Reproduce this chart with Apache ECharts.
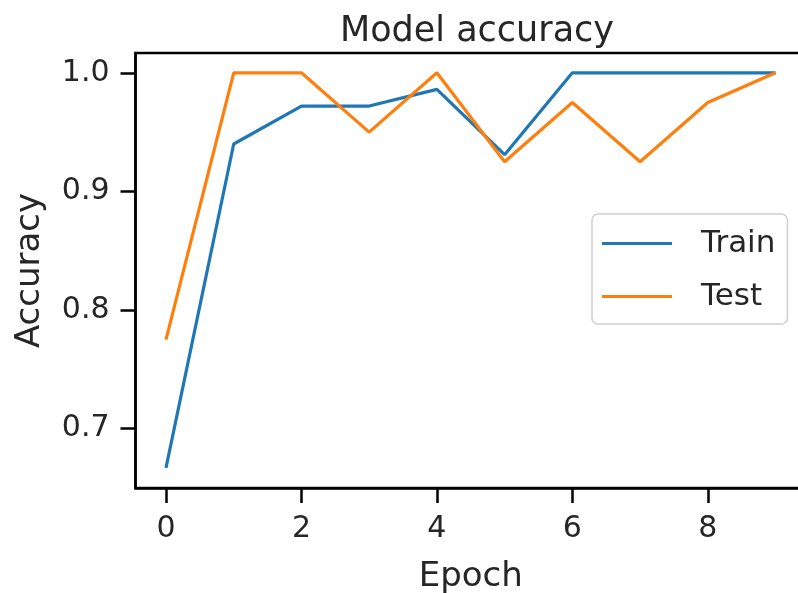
<!DOCTYPE html>
<html>
<head>
<meta charset="utf-8">
<script src="https://cdn.jsdelivr.net/npm/echarts@6/dist/echarts.min.js"></script>
<style>html,body{margin:0;padding:0;background:#fff;}#c{width:798px;height:593px;}</style>
</head>
<body>
<div id="c"></div>
<script>
const epochs = [0, 1, 2, 3, 4, 5, 6, 7, 8, 9];
const trainAcc = [0.667, 0.940, 0.972, 0.972, 0.986, 0.931, 1.0, 1.0, 1.0, 1.0];
const testAcc = [0.775, 1.0, 1.0, 0.950, 1.0, 0.925, 0.975, 0.925, 0.975, 1.0];
const xTicks = [0, 2, 4, 6, 8];
const yTicks = [0.7, 0.8, 0.9, 1.0];

const font = 'DejaVu Sans';
const chart = echarts.init(document.getElementById('c'));
chart.setOption({
  animation: false,
  title: {
    text: 'Model accuracy', left: 472, top: 9, textAlign: 'center',
    textStyle: {fontFamily: font, fontSize: 35, fontWeight: 'normal', color: '#262626'}
  },
  grid: {left: 135.5, right: -8, top: 53, bottom: 105, outerBoundsMode: 'none', containLabel: false,
    show: true, borderColor: '#000', borderWidth: 2.5, backgroundColor: 'transparent'},
  legend: {
    orient: 'vertical', left: 592, top: 214,
    data: ['Train', 'Test'],
    icon: 'rect', itemWidth: 70, itemHeight: 3, itemGap: 22,
    padding: [14, 12, 12, 10],
    backgroundColor: 'rgba(255,255,255,0.8)', borderColor: '#d0d0d0', borderWidth: 1.5, borderRadius: 6,
    textStyle: {fontFamily: font, fontSize: 31, color: '#262626', padding: [0, 0, 0, 24]}
  },
  xAxis: {
    type: 'value', min: -0.45, max: 9.45,
    name: 'Epoch', nameLocation: 'middle', nameGap: 72,
    nameTextStyle: {fontFamily: font, fontSize: 34, color: '#262626'},
    axisLine: {show: true, onZero: false, lineStyle: {color: '#000', width: 2.5}},
    axisTick: {show: true, length: 15, lineStyle: {color: '#000', width: 2.5}, customValues: xTicks},
    axisLabel: {fontFamily: font, fontSize: 30, color: '#262626', margin: 26, customValues: xTicks},
    splitLine: {show: false}
  },
  yAxis: {
    type: 'value', min: 0.6500, max: 1.0167,
    name: 'Accuracy', nameLocation: 'middle', nameGap: 88,
    nameTextStyle: {fontFamily: font, fontSize: 34, color: '#262626'},
    axisLine: {show: true, onZero: false, lineStyle: {color: '#000', width: 2.5}},
    axisTick: {show: true, length: 15, lineStyle: {color: '#000', width: 2.5}, customValues: yTicks},
    axisLabel: {fontFamily: font, fontSize: 30, color: '#262626', margin: 26, customValues: yTicks,
      formatter: v => v.toFixed(1)},
    splitLine: {show: false}
  },
  series: [
    {name: 'Train', type: 'line', data: epochs.map((e, i) => [e, trainAcc[i]]), symbol: 'none',
      lineStyle: {color: '#1f77b4', width: 3.2}, itemStyle: {color: '#1f77b4'}},
    {name: 'Test', type: 'line', data: epochs.map((e, i) => [e, testAcc[i]]), symbol: 'none',
      lineStyle: {color: '#ff7f0e', width: 3.2}, itemStyle: {color: '#ff7f0e'}}
  ]
});
</script>
</body>
</html>
